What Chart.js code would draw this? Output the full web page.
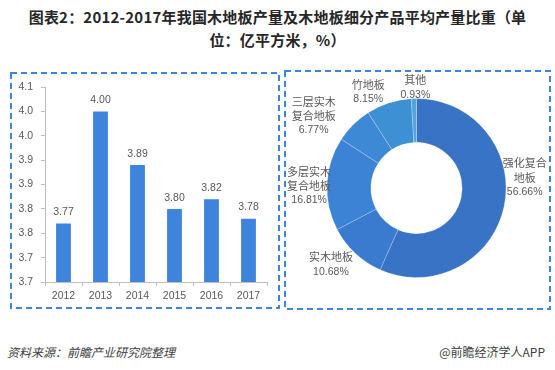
<!DOCTYPE html>
<html>
<head>
<meta charset="utf-8">
<script src="https://cdn.jsdelivr.net/npm/chart.js@4"></script>
<style>
  body { margin: 0; width: 555px; height: 370px; background: #fff; position: relative; overflow: hidden;
         font-family: "Noto Sans CJK SC", "Noto Sans", sans-serif; }
  #title { position: absolute; left: 0; top: 5px; width: 555px; text-align: center;
           font-size: 15px; font-weight: bold; line-height: 23px; color: #262626; letter-spacing: 0.2px; }
  canvas { position: absolute; }
  #barCanvas { left: 10px; top: 72px; }
  #pieCanvas { left: 284px; top: 70px; }
  .foot { position: absolute; top: 344px; font-size: 12px; color: #404040; line-height: 16px; }
  #source { left: 7px; font-style: italic; }
  #brand { right: 10px; }
</style>
</head>
<body>
<div id="title">图表2：2012-2017年我国木地板产量及木地板细分产品平均产量比重（单<br>位：亿平方米，%）</div>
<canvas id="barCanvas" width="270" height="237"></canvas>
<canvas id="pieCanvas" width="267" height="240"></canvas>
<div class="foot" id="source">资料来源：前瞻产业研究院整理</div>
<div class="foot" id="brand">@前瞻经济学人APP</div>
<script>
// bar chart data (亿平方米)
const years = ['2012', '2013', '2014', '2015', '2016', '2017'];
const output = [3.77, 4.00, 3.89, 3.80, 3.82, 3.78];
const yTickLabels = ['3.7', '3.7', '3.8', '3.8', '3.9', '3.9', '4.0', '4.0', '4.1'];

// doughnut data (%)
const floorTypes = ['强化复合\n地板', '实木地板', '多层实木\n复合地板', '三层实木\n复合地板', '竹地板', '其他'];
const floorShares = [56.66, 10.68, 16.81, 6.77, 8.15, 0.93];

const labelGray = '#595959';
const axisGray = '#bfbfbf';
const sliceColors = ['#3873c6', '#3b7bcf', '#3c82d5', '#3d89d6', '#3e90d4', '#55a5dd'];
// label nudges relative to the radial anchor of each slice
const labelNudge = [[3, -33], [-12, -2], [0, 3], [-27, 4], [-15, 6], [2, 7]];

Chart.defaults.font.family = '"Noto Sans CJK SC", "Liberation Sans", sans-serif';
Chart.defaults.color = labelGray;

const dashedFrame = {
  id: 'dashedFrame',
  beforeDraw(chart) {
    const ctx = chart.ctx;
    ctx.save();
    ctx.setLineDash([6, 4]);
    ctx.strokeStyle = '#3d85e0';
    ctx.lineWidth = 2;
    ctx.strokeRect(1, 1, chart.width - 2, chart.height - 2);
    ctx.restore();
  }
};

const barValues = {
  id: 'barValues',
  afterDatasetsDraw(chart) {
    const ctx = chart.ctx;
    const meta = chart.getDatasetMeta(0);
    ctx.save();
    ctx.font = '10.5px "Liberation Sans", sans-serif';
    ctx.fillStyle = labelGray;
    ctx.textAlign = 'center';
    ctx.textBaseline = 'bottom';
    meta.data.forEach((bar, i) => {
      ctx.fillText(output[i].toFixed(2), bar.x, bar.y - 6);
    });
    ctx.restore();
  }
};

new Chart(document.getElementById('barCanvas'), {
  type: 'bar',
  data: {
    labels: years,
    datasets: [{
      data: output,
      backgroundColor: '#3e83dc',
      barPercentage: 0.4,
      categoryPercentage: 1
    }]
  },
  options: {
    responsive: false,
    animation: false,
    devicePixelRatio: 1,
    layout: { padding: { top: 15, right: 13, bottom: 0, left: 0 } },
    plugins: { legend: { display: false }, tooltip: { enabled: false } },
    scales: {
      x: {
        grid: { drawOnChartArea: false, tickLength: 4, color: axisGray },
        border: { color: axisGray },
        ticks: { padding: 4, font: { size: 10.5, family: '"Liberation Sans", sans-serif' }, color: labelGray },
        afterFit: s => { s.height = 27; }
      },
      y: {
        min: 3.65,
        max: 4.05,
        grid: { drawOnChartArea: false, tickLength: 4, color: axisGray },
        border: { color: axisGray },
        ticks: {
          stepSize: 0.05,
          padding: 8,
          font: { size: 10.5, family: '"Liberation Sans", sans-serif' },
          color: labelGray,
          callback: (v, i) => yTickLabels[i]
        },
        afterFit: s => { s.width = 35; }
      }
    }
  },
  plugins: [dashedFrame, barValues]
});

const sliceLabels = {
  id: 'sliceLabels',
  afterDatasetsDraw(chart) {
    const ctx = chart.ctx;
    const meta = chart.getDatasetMeta(0);
    ctx.save();
    ctx.fillStyle = labelGray;
    ctx.textAlign = 'center';
    ctx.textBaseline = 'middle';
    meta.data.forEach((arc, i) => {
      const p = arc.getProps(['x', 'y', 'startAngle', 'endAngle', 'outerRadius']);
      const mid = (p.startAngle + p.endAngle) / 2;
      const r = p.outerRadius + 18;
      const cx = p.x + Math.cos(mid) * r + labelNudge[i][0];
      const cy = p.y + Math.sin(mid) * r + labelNudge[i][1];
      const lines = floorTypes[i].split('\n');
      lines.push(floorShares[i].toFixed(2) + '%');
      const lh = 14.5;
      lines.forEach((t, j) => {
        ctx.font = (j === lines.length - 1 ? '10.5px "Liberation Sans"' : '11px "Noto Sans CJK SC"');
        ctx.fillText(t, cx, cy + (j - (lines.length - 1) / 2) * lh);
      });
    });
    ctx.restore();
  }
};

new Chart(document.getElementById('pieCanvas'), {
  type: 'doughnut',
  data: {
    labels: floorTypes,
    datasets: [{
      data: floorShares,
      backgroundColor: sliceColors,
      borderColor: 'rgba(255,255,255,0.22)',
      borderWidth: 1
    }]
  },
  options: {
    responsive: false,
    animation: false,
    devicePixelRatio: 1,
    cutout: '51%',
    layout: { padding: { top: 28, right: 44.5, bottom: 32, left: 42.5 } },
    plugins: { legend: { display: false }, tooltip: { enabled: false } }
  },
  plugins: [dashedFrame, sliceLabels]
});
</script>
</body>
</html>
